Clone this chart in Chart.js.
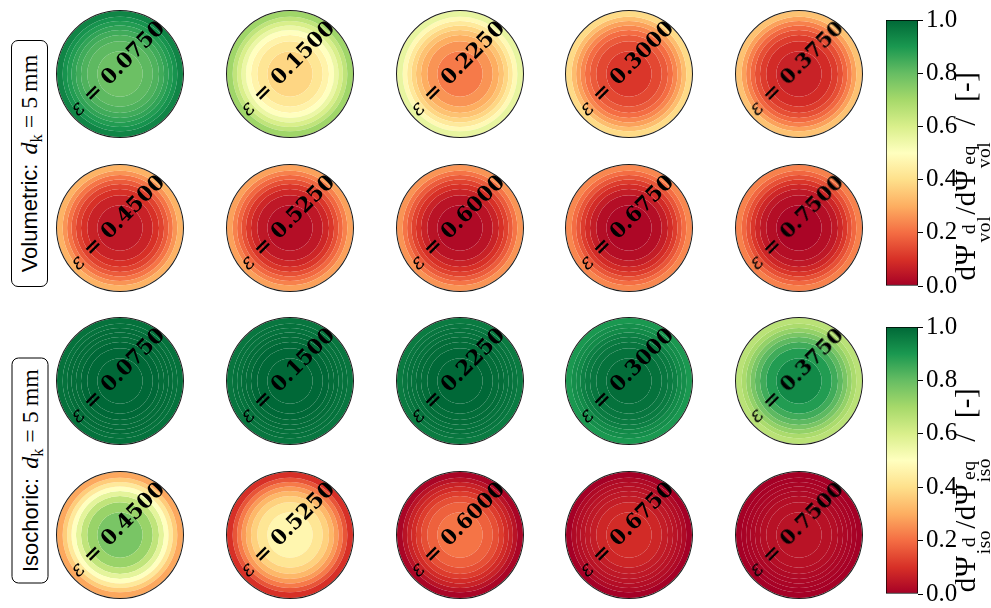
<!DOCTYPE html>
<html lang="en">
<head>
<meta charset="UTF-8" />
<title>Ring maps of dissipated energy ratio</title>
<script src="https://cdn.jsdelivr.net/npm/chart.js"></script>
<style>
  html, body { margin: 0; padding: 0; background: #fff; }
  #fig { position: relative; width: 991px; height: 608px; overflow: hidden; }
  .panel, .cbar { position: absolute; }
  .eps {
    position: absolute; white-space: nowrap; color: #000; line-height: 1;
    font-family: 'DejaVu Serif', serif; font-size: 21px; font-weight: bold;
    transform: translate(-50%, -50%) rotate(-45deg);
  }
  .eps i { font-weight: normal; }
  .rowlab {
    position: absolute; box-sizing: border-box; background: #fff;
    border: 1px solid #000; border-radius: 7px;
    display: flex; align-items: center; justify-content: center;
    transform: rotate(-90deg); white-space: nowrap;
  }
  .sans { font-family: 'Liberation Sans', sans-serif; font-size: 22px; }
  .serif { font-family: 'Liberation Serif', serif; font-size: 24px; margin-left: 9px; }
  .sub { font-size: 0.68em; position: relative; top: 0.3em; }
  .cblab {
    position: absolute; width: 320px; height: 40px; line-height: 40px;
    text-align: center; white-space: nowrap; color: #000;
    font-family: 'Liberation Serif', serif; font-size: 29px; letter-spacing: 0.5px;
    transform: rotate(-90deg);
  }
  .ss {
    display: inline-flex; flex-direction: column; font-size: 0.68em;
    line-height: 0.8; vertical-align: 0.02em; margin: 0 1px;
  }
</style>
</head>
<body>
<div id="fig"></div>

<script>
  // strain levels, one per column
  const strains = ['0.0750', '0.1500', '0.2250', '0.3000', '0.3750',
                   '0.4500', '0.5250', '0.6000', '0.6750', '0.7500'];

  // contour ring values, centre -> surface, volumetric part
  const volRings = [
    [0.79, 0.81, 0.83, 0.85, 0.87, 0.89, 0.91, 0.94],
    [0.38, 0.42, 0.46, 0.50, 0.55, 0.60, 0.65, 0.71],
    [0.22, 0.26, 0.30, 0.34, 0.38, 0.43, 0.48, 0.56],
    [0.11, 0.14, 0.17, 0.20, 0.24, 0.28, 0.33, 0.39],
    [0.07, 0.09, 0.12, 0.15, 0.19, 0.23, 0.28, 0.34],
    [0.05, 0.07, 0.10, 0.13, 0.17, 0.21, 0.26, 0.31],
    [0.03, 0.05, 0.08, 0.11, 0.15, 0.19, 0.23, 0.28],
    [0.02, 0.04, 0.07, 0.10, 0.13, 0.17, 0.21, 0.26],
    [0.015, 0.03, 0.06, 0.09, 0.12, 0.16, 0.20, 0.24],
    [0.01, 0.03, 0.05, 0.08, 0.11, 0.15, 0.19, 0.23]
  ];

  // contour ring values, centre -> surface, isochoric part
  const isoRings = [
    [1.00, 1.00, 1.00, 0.99, 0.99, 0.99, 0.98, 0.98],
    [1.00, 1.00, 1.00, 0.99, 0.99, 0.98, 0.98, 0.97],
    [1.00, 1.00, 0.99, 0.99, 0.98, 0.98, 0.97, 0.96],
    [0.99, 0.98, 0.97, 0.96, 0.95, 0.93, 0.92, 0.90],
    [0.93, 0.89, 0.85, 0.81, 0.77, 0.73, 0.69, 0.66],
    [0.77, 0.72, 0.65, 0.57, 0.50, 0.43, 0.36, 0.29],
    [0.47, 0.42, 0.37, 0.32, 0.27, 0.22, 0.16, 0.10],
    [0.21, 0.18, 0.15, 0.12, 0.09, 0.07, 0.04, 0.01],
    [0.09, 0.08, 0.06, 0.05, 0.04, 0.03, 0.02, 0.00],
    [0.04, 0.035, 0.03, 0.02, 0.015, 0.01, 0.005, 0.00]
  ];

  // outer radius of each contour ring, r / R
  const ringEdges = [0.36, 0.52, 0.62, 0.70, 0.77, 0.84, 0.91, 1.00];

  const cbTicks = [0.0, 0.2, 0.4, 0.6, 0.8, 1.0];

  // RdYlGn anchor colours
  const RDYLGN = ['#a50026', '#d73027', '#f46d43', '#fdae61', '#fee08b', '#ffffbf',
                  '#d9ef8b', '#a6d96a', '#66bd63', '#1a9850', '#006837'];

  function hexRgb(h) {
    return [1, 3, 5].map(i => parseInt(h.slice(i, i + 2), 16));
  }
  function rdylgn(v) {
    v = Math.min(1, Math.max(0, v)) * 10;
    const i = Math.min(9, Math.floor(v));
    const t = v - i;
    const a = hexRgb(RDYLGN[i]), b = hexRgb(RDYLGN[i + 1]);
    const c = a.map((x, k) => Math.round(x + (b[k] - x) * t));
    return `rgb(${c[0]},${c[1]},${c[2]})`;
  }

  const fig = document.getElementById('fig');
  const colX = [120, 289.8, 459.6, 629.4, 799.2];
  const rowY = [74, 227.5, 381, 535];
  const R = 64;

  function ringPanel(values, cx, cy, label) {
    const cv = document.createElement('canvas');
    cv.className = 'panel';
    cv.width = 2 * R; cv.height = 2 * R;
    cv.style.left = (cx - R) + 'px';
    cv.style.top = (cy - R) + 'px';
    fig.appendChild(cv);

    // doughnut datasets run from the outside in
    const datasets = [{ data: [1], backgroundColor: '#1c1c1c', borderWidth: 0, weight: 0.016 }];
    for (let k = values.length - 1; k >= 0; k--) {
      const w = ringEdges[k] - (k > 0 ? ringEdges[k - 1] : 0);
      datasets.push({ data: [1], backgroundColor: rdylgn(values[k]), borderWidth: 0, weight: w });
    }
    new Chart(cv, {
      type: 'doughnut',
      data: { labels: [''], datasets },
      options: {
        responsive: false, animation: false, events: [], cutout: 0,
        layout: { padding: 0 },
        plugins: { legend: { display: false }, tooltip: { enabled: false } }
      }
    });

    const t = document.createElement('div');
    t.className = 'eps';
    t.style.left = (cx - 3) + 'px';
    t.style.top = (cy - 6) + 'px';
    t.innerHTML = '<i>&epsilon;</i> = ' + label;
    fig.appendChild(t);
  }

  function colorbar(top, height) {
    const pad = 15, axisW = 60, barW = 32;
    const cv = document.createElement('canvas');
    cv.className = 'cbar';
    cv.width = barW + axisW; cv.height = height + 2 * pad;
    cv.style.left = '886px';
    cv.style.top = (top - pad) + 'px';
    fig.appendChild(cv);

    new Chart(cv, {
      type: 'bar',
      data: {
        labels: [''],
        datasets: [{
          data: [1],
          barPercentage: 1, categoryPercentage: 1,
          borderWidth: 1, borderColor: '#000', borderSkipped: false,
          backgroundColor: (ctx) => {
            const area = ctx.chart.chartArea;
            if (!area) return null;
            const g = ctx.chart.ctx.createLinearGradient(0, area.bottom, 0, area.top);
            RDYLGN.forEach((c, i) => g.addColorStop(i / 10, c));
            return g;
          }
        }]
      },
      options: {
        responsive: false, animation: false, events: [],
        layout: { padding: { left: 0, right: 0, top: pad, bottom: pad } },
        plugins: { legend: { display: false }, tooltip: { enabled: false } },
        scales: {
          x: { display: false },
          y: {
            position: 'right', min: 0, max: 1,
            afterFit: (s) => { s.width = axisW; },
            afterBuildTicks: (s) => { s.ticks = cbTicks.map(v => ({ value: v })); },
            grid: { drawOnChartArea: false, drawTicks: true, tickLength: 5, color: '#000', lineWidth: 1 },
            border: { display: false },
            ticks: {
              padding: 3, color: '#000',
              font: { family: "'Liberation Serif', serif", size: 25 },
              callback: (v) => Number(v).toFixed(1)
            }
          }
        }
      }
    });
  }

  strains.forEach((s, i) => {
    const c = i % 5, r = Math.floor(i / 5);
    ringPanel(volRings[i], colX[c], rowY[r], s);
    ringPanel(isoRings[i], colX[c], rowY[r + 2], s);
  });

  colorbar(17, 272);
  colorbar(324, 273);

  function addHtml(html) {
    fig.insertAdjacentHTML('beforeend', html);
  }

  // row labels
  addHtml('<div class="rowlab" style="left:-94px;top:145px;width:247px;height:37px">' +
          '<span class="sans">Volumetric:</span><span class="serif"><i>d</i><span class="sub">k</span> = 5&#8201;mm</span></div>');
  addHtml('<div class="rowlab" style="left:-83.5px;top:451.5px;width:226px;height:37px">' +
          '<span class="sans">Isochoric:</span><span class="serif"><i>d</i><span class="sub">k</span> = 5&#8201;mm</span></div>');

  // colorbar titles, box centred on (965, y)
  addHtml('<div class="cblab" style="left:805px;top:156px">d&Psi;<span class="ss"><span>d</span><span>vol</span></span>/d&Psi;<span class="ss"><span>eq</span><span>vol</span></span>&ensp;/&ensp;[-]</div>');
  addHtml('<div class="cblab" style="left:805px;top:470px">d&Psi;<span class="ss"><span>d</span><span>iso</span></span>/d&Psi;<span class="ss"><span>eq</span><span>iso</span></span>&ensp;/&ensp;[-]</div>');
</script>
</body>
</html>
